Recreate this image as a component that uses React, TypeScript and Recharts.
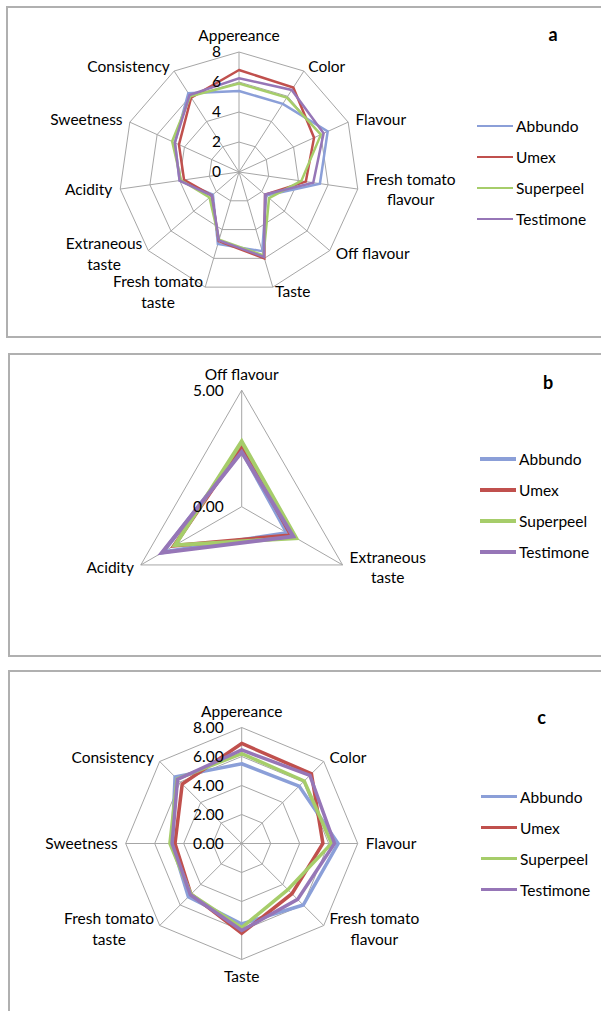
import { RadarChart, Radar, PolarGrid, PolarAngleAxis, PolarRadiusAxis, Legend } from 'recharts'

const SERIES = ['Abbundo', 'Umex', 'Superpeel', 'Testimone']
const COLORS = ['#8b9fd8', '#c0504d', '#a6cd6a', '#9676b7']

// panel a - all attributes
const catsA = ['Appereance', 'Color', 'Flavour', 'Fresh tomato flavour', 'Off flavour', 'Taste', 'Fresh tomato taste', 'Extraneous taste', 'Acidity', 'Sweetness', 'Consistency']
const abbundoA = [5.4, 5.4, 6.5, 5.45, 2.4, 5.5, 5.0, 2.3, 4.0, 4.7, 6.25]
const umexA = [6.8, 6.7, 5.5, 4.5, 2.3, 6.0, 4.8, 2.4, 3.7, 4.4, 5.9]
const superpeelA = [5.9, 5.9, 6.0, 4.2, 2.65, 5.8, 4.7, 2.6, 3.9, 4.9, 6.0]
const testimoneA = [6.25, 6.5, 6.2, 5.0, 2.3, 5.9, 4.75, 2.4, 4.0, 4.7, 6.1]

// panel b - negative attributes
const catsB = ['Off flavour', 'Extraneous taste', 'Acidity']
const abbundoB = [2.4, 2.25, 3.9]
const umexB = [2.6, 2.45, 3.35]
const superpeelB = [2.8, 2.7, 3.3]
const testimoneB = [2.35, 2.55, 3.95]

// panel c - positive attributes
const catsC = ['Appereance', 'Color', 'Flavour', 'Fresh tomato flavour', 'Taste', 'Fresh tomato taste', 'Sweetness', 'Consistency']
const abbundoC = [5.5, 5.6, 6.65, 6.0, 5.55, 5.2, 4.8, 6.5]
const umexC = [6.9, 6.8, 5.6, 4.9, 6.2, 4.95, 4.6, 5.8]
const superpeelC = [6.2, 6.1, 6.2, 4.5, 5.8, 4.95, 4.95, 6.3]
const testimoneC = [6.45, 6.65, 6.4, 5.45, 6.0, 5.0, 4.8, 6.26]

const WRAP: Record<string, string[]> = {
  'Fresh tomato flavour': ['Fresh tomato', 'flavour'],
  'Fresh tomato taste': ['Fresh tomato', 'taste'],
  'Extraneous taste': ['Extraneous', 'taste'],
}

const FONT = 'Lato, "Open Sans", sans-serif'
const FS = 15.5
const LH = 20.5

function build(cats: string[], cols: number[][]) {
  return cats.map((name, i) => {
    const row: any = { name }
    SERIES.forEach((s, j) => (row[s] = cols[j][i]))
    return row
  })
}

let ctx: CanvasRenderingContext2D | null = null
function textWidth(s: string) {
  if (!ctx) ctx = document.createElement('canvas').getContext('2d')
  if (!ctx) return s.length * 7.5
  ctx.font = `${FS}px Lato`
  return ctx.measureText(s).width
}

function AngleTick(props: any) {
  const { x, y, payload } = props
  const a = (payload.coordinate * Math.PI) / 180
  const dx = Math.cos(a)
  const dy = -Math.sin(a)
  const lines = WRAP[payload.value] || [payload.value]
  let anchor = 'middle'
  let tx = x
  // side labels sit a bit closer to the vertex vertically
  let c0 = y - 3 * dy - ((lines.length - 1) * LH) / 2
  if (Math.abs(dx) < 0.05) {
    c0 = dy < 0 ? y - 8 - (lines.length - 1) * LH : y + 9
  } else if (lines.length > 1) {
    const w = Math.max(...lines.map(textWidth))
    tx = dx > 0 ? x + w / 2 : x - w / 2
  } else {
    anchor = dx > 0 ? 'start' : 'end'
  }
  return (
    <text textAnchor={anchor} fontSize={FS} fill="#000" fontFamily={FONT}>
      {lines.map((l: string, i: number) => (
        <tspan key={i} x={tx} y={c0 + i * LH + FS * 0.35}>{l}</tspan>
      ))}
    </text>
  )
}

function radiusTick(fmt: (v: number) => string) {
  return (props: any) => {
    const { x, y, payload } = props
    return (
      <text x={x - 18} y={y + FS * 0.35} textAnchor="end" fontSize={FS} fill="#000" fontFamily={FONT}>
        {fmt(payload.value)}
      </text>
    )
  }
}

function LegendBox({ sw }: { sw: number }) {
  return (
    <div style={{ fontFamily: FONT, fontSize: FS, color: '#000' }}>
      {SERIES.map((s, i) => (
        <div key={s} style={{ height: 31, display: 'flex', alignItems: 'center' }}>
          <div style={{ width: 36, height: sw, background: COLORS[i], marginRight: 3 }} />
          <span>{s}</span>
        </div>
      ))}
    </div>
  )
}

interface PanelProps {
  top: number
  height: number
  data: any[]
  max: number
  tickCount: number
  fmt: (v: number) => string
  cx: number
  cy: number
  r: number
  sw: number
  legendLeft: number
  legendTop: number
  letter: string
  lx: number
  ly: number
}

function Panel(p: PanelProps) {
  return (
    <div style={{ position: 'absolute', left: 0, top: p.top, width: 601, height: p.height }}>
      <RadarChart width={601} height={p.height} data={p.data} cx={p.cx} cy={p.cy} outerRadius={p.r}
        margin={{ top: 0, right: 0, bottom: 0, left: 0 }}>
        <PolarGrid stroke="#a6a6a6" />
        <PolarAngleAxis dataKey="name" tick={<AngleTick />} tickLine={false} axisLine={false} />
        <PolarRadiusAxis angle={90} domain={[0, p.max]} tickCount={p.tickCount} axisLine={false}
          tickLine={false} tick={radiusTick(p.fmt)} />
        {SERIES.map((s, i) => (
          <Radar key={s} dataKey={s} name={s} stroke={COLORS[i]} strokeWidth={p.sw} fill="none"
            fillOpacity={0} dot={false} isAnimationActive={false} />
        ))}
        <Legend content={() => <LegendBox sw={p.sw} />}
          wrapperStyle={{ left: p.legendLeft, top: p.legendTop, width: 130 }} />
      </RadarChart>
      <div style={{ position: 'absolute', left: p.lx - 10, top: p.ly - 12, width: 20, textAlign: 'center',
        fontFamily: FONT, fontWeight: 'bold', fontSize: 18, lineHeight: '24px' }}>{p.letter}</div>
    </div>
  )
}

const boxStyle = (left: number, top: number, height: number): any => ({
  position: 'absolute', left, top, width: 700, height, border: '2px solid #b0b0b0', boxSizing: 'border-box',
})

export default function App() {
  const dataA = build(catsA, [abbundoA, umexA, superpeelA, testimoneA])
  const dataB = build(catsB, [abbundoB, umexB, superpeelB, testimoneB])
  const dataC = build(catsC, [abbundoC, umexC, superpeelC, testimoneC])
  const int = (v: number) => String(v)
  const dec = (v: number) => v.toFixed(2)
  return (
    <div style={{ position: 'absolute', left: 0, top: 0, width: 601, height: 1011, overflow: 'hidden', background: '#fff' }}>
      <div style={boxStyle(6, 6, 332)} />
      <div style={boxStyle(8, 353, 304)} />
      <div style={boxStyle(8, 670, 400)} />
      <Panel top={0} height={340} data={dataA} max={8} tickCount={5} fmt={int} cx={239} cy={172} r={120}
        sw={2.5} legendLeft={477} legendTop={110.5} letter="a" lx={553} ly={34} />
      <Panel top={345} height={310} data={dataB} max={5} tickCount={2} fmt={dec} cx={241.7} cy={161.7} r={116.5}
        sw={4} legendLeft={480} legendTop={98.5} letter="b" lx={548} ly={36.5} />
      <Panel top={660} height={351} data={dataC} max={8} tickCount={5} fmt={dec} cx={241.7} cy={183.5} r={116}
        sw={3.5} legendLeft={481} legendTop={121} letter="c" lx={541.7} ly={56.7} />
    </div>
  )
}
